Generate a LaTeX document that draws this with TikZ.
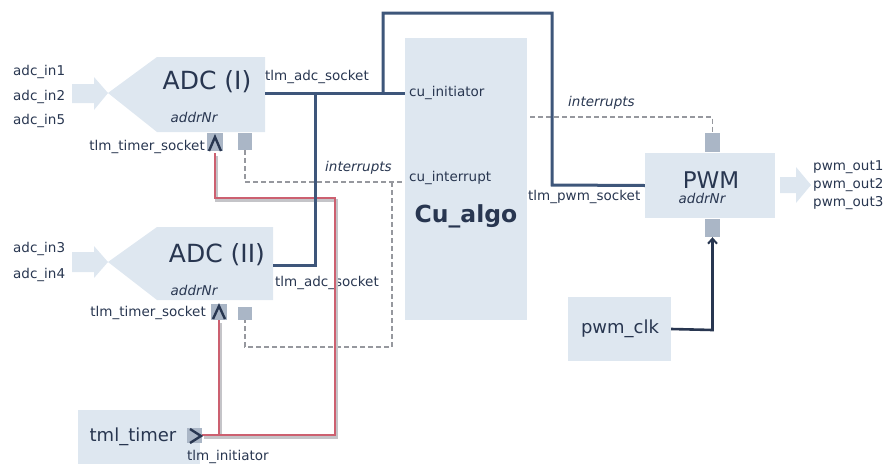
\documentclass[tikz,border=0pt]{standalone}
\usepackage{fontspec}
\setmainfont{DejaVu Sans}
\usetikzlibrary{arrows.meta}
\definecolor{boxfill}{RGB}{222,231,240}
\definecolor{navy}{RGB}{40,54,80}
\definecolor{wire}{RGB}{62,86,122}
\definecolor{portc}{RGB}{170,182,198}
\definecolor{dashc}{RGB}{150,152,158}
\definecolor{redw}{RGB}{204,96,112}
\definecolor{shadowc}{RGB}{196,196,200}
\begin{document}
\begin{tikzpicture}[x=1pt,y=-1pt,
  lbl/.style={inner sep=0pt, text=navy, font=\fontsize{13.5}{15}\selectfont},
  ilbl/.style={lbl, font=\fontsize{13.5}{15}\selectfont\itshape},
  big/.style={inner sep=0pt, text=navy, font=\fontsize{25}{28}\selectfont},
  mid/.style={inner sep=0pt, text=navy, font=\fontsize{18}{20}\selectfont},
  box/.style={fill=boxfill, draw=none, inner sep=0pt},
  portsq/.style={fill=portc, draw=none, inner sep=0pt},
  bluewire/.style={draw=wire, line width=3pt},
  redwire/.style={draw=redw, line width=2.2pt},
  shadowwire/.style={draw=shadowc, line width=2.6pt},
  dashwire/.style={draw=dashc, line width=1.3pt, dash pattern=on 5pt off 3pt},
  chev/.style={draw=navy, line width=2.4pt, line join=miter},
  blockarrow/.style={fill=boxfill, draw=none}
]
\useasboundingbox (0,0) rectangle (892,464);

% ---------- ADC (I) ----------
\fill[boxfill] (265,57) -- (157,57) -- (108,93) -- (157,132) -- (265,132) -- cycle;
\fill[boxfill] (72,84) -- (94,84) -- (94,77) -- (108,93) -- (94,110) -- (94,103) -- (72,103) -- cycle;
\node[big] (adc1) at (207,82) {ADC (I)};
\node[ilbl] (adc1addr) at (194,117) {addrNr};
\node[lbl, anchor=west] (in1) at (13,72) {adc\_in1};
\node[lbl, anchor=west] (in2) at (13,96.5) {adc\_in2};
\node[lbl, anchor=west] (in5) at (13,121) {adc\_in5};
\node[lbl, anchor=west] (adc1sock) at (265,77) {tlm\_adc\_socket};
\node[lbl, anchor=east] (adc1tsock) at (205,147) {tlm\_timer\_socket};
\node[portsq, minimum width=16pt, minimum height=18pt] (adc1tport) at (215,142) {};
\node[portsq, minimum width=14pt, minimum height=17pt] (adc1irq) at (245,141.5) {};
\coordinate (adc1out) at (265,93);

% ---------- ADC (II) ----------
\fill[boxfill] (273,227) -- (157,227) -- (108,262) -- (157,300) -- (273,300) -- cycle;
\fill[boxfill] (72,252) -- (94,252) -- (94,246) -- (108,262) -- (94,278) -- (94,272) -- (72,272) -- cycle;
\node[big] (adc2) at (217,255) {ADC (II)};
\node[ilbl] (adc2addr) at (194,290) {addrNr};
\node[lbl, anchor=west] (in3) at (13,249) {adc\_in3};
\node[lbl, anchor=west] (in4) at (13,275) {adc\_in4};
\node[lbl, anchor=west] (adc2sock) at (275,283) {tlm\_adc\_socket};
\node[lbl, anchor=east] (adc2tsock) at (206,313) {tlm\_timer\_socket};
\node[portsq, minimum width=16pt, minimum height=16pt] (adc2tport) at (219,312) {};
\node[portsq, minimum width=14pt, minimum height=13pt] (adc2irq) at (245,313.5) {};
\coordinate (adc2out) at (273,265);

% ---------- Cu_algo ----------
\node[box, minimum width=122pt, minimum height=282pt] (cu) at (466,179) {};
\node[inner sep=0pt, text=navy, font=\fontsize{23.5}{26}\selectfont\bfseries] (cuname) at (466,216) {Cu\_algo};
\node[lbl, anchor=west] (cuinitlbl) at (409,93) {cu\_initiator};
\node[lbl, anchor=west] (cuirqlbl) at (409,178) {cu\_interrupt};
\coordinate (cuinit) at (405,93);
\coordinate (cuirq) at (405,182);
\coordinate (cuirqout) at (530,117);

% ---------- PWM ----------
\node[box, minimum width=130pt, minimum height=65pt] (pwm) at (710,185.5) {};
\node[inner sep=0pt, text=navy, font=\fontsize{23}{26}\selectfont] (pwmname) at (711,180) {PWM};
\node[ilbl] (pwmaddr) at (702,198) {addrNr};
\node[lbl, anchor=west] (pwmsock) at (528,197) {tlm\_pwm\_socket};
\node[portsq, minimum width=15pt, minimum height=19pt] (pwmtop) at (712.5,142.5) {};
\node[portsq, minimum width=15pt, minimum height=18pt] (pwmbot) at (712.5,228) {};
\fill[boxfill] (780,177) -- (796,177) -- (796,167) -- (811,185) -- (796,203) -- (796,193) -- (780,193) -- cycle;
\node[lbl, anchor=west] (out1) at (813,167) {pwm\_out1};
\node[lbl, anchor=west] (out2) at (813,185) {pwm\_out2};
\node[lbl, anchor=west] (out3) at (813,203) {pwm\_out3};
\node[lbl, anchor=west] (irq2) at (568,103) {\itshape interrupts};

% ---------- pwm_clk ----------
\node[box, minimum width=103pt, minimum height=64pt] (clk) at (619.5,329) {};
\node[mid] (clkname) at (620,329) {pwm\_clk};

% ---------- tml_timer ----------
\node[box, minimum width=122pt, minimum height=54pt] (tmr) at (139,437) {};
\node[mid] (tmrname) at (133,437) {tml\_timer};
\node[portsq, minimum width=15pt, minimum height=15pt] (tmrport) at (194.5,435.5) {};
\node[lbl, anchor=west] (tmrinit) at (187,457) {tlm\_initiator};

% ---------- interrupts label left ----------
\node[lbl, anchor=west] (irq1) at (325,168) {\itshape interrupts};

% ---------- dashed interrupt wires ----------
\draw[dashwire] (adc1irq.south) |- (cuirq);
\draw[dashwire] (392,182) |- (adc2irq.south |- 0,347) -- (adc2irq.south);
\draw[dashwire] (cuirqout) -| (pwmtop.north);

% ---------- red timer wires (shadow first) ----------
\begin{scope}[transform canvas={shift={(1.5pt,-2.5pt)}}]
\draw[shadowwire] (tmrport.east |- 0,435) -- (335,435) -- (335,198) -- (215,198) -- (215,153);
\draw[shadowwire] (219,435) -- (219,320);
\end{scope}
\draw[redwire] (tmrport.east |- 0,435) -- (335,435) -- (335,198) -- (215,198) -- (215,153);
\draw[redwire] (219,435) -- (219,320);

% ---------- blue socket wires ----------
\draw[bluewire] (adc1out) -- (cuinit);
\draw[bluewire] (315,93) -- (315,265) -- (adc2out);
\draw[bluewire] (383,93) -- (383,13) -- (552,13) -- (552,185) -- (pwm.west);

% ---------- chevrons ----------
\draw[chev] (209,151) -- (215,137) -- (221,151);
\draw[chev] (213,319) -- (219,306) -- (225,319);
\draw[chev] (190,429) -- (201,436) -- (190,443);

% ---------- clock wire ----------
\draw[draw=navy, line width=2.6pt, -{Straight Barb[length=5pt,width=9pt,line width=2pt]}] (clk.east) -- (712.5,330) -- (pwmbot.south);
\end{tikzpicture}
\end{document}
